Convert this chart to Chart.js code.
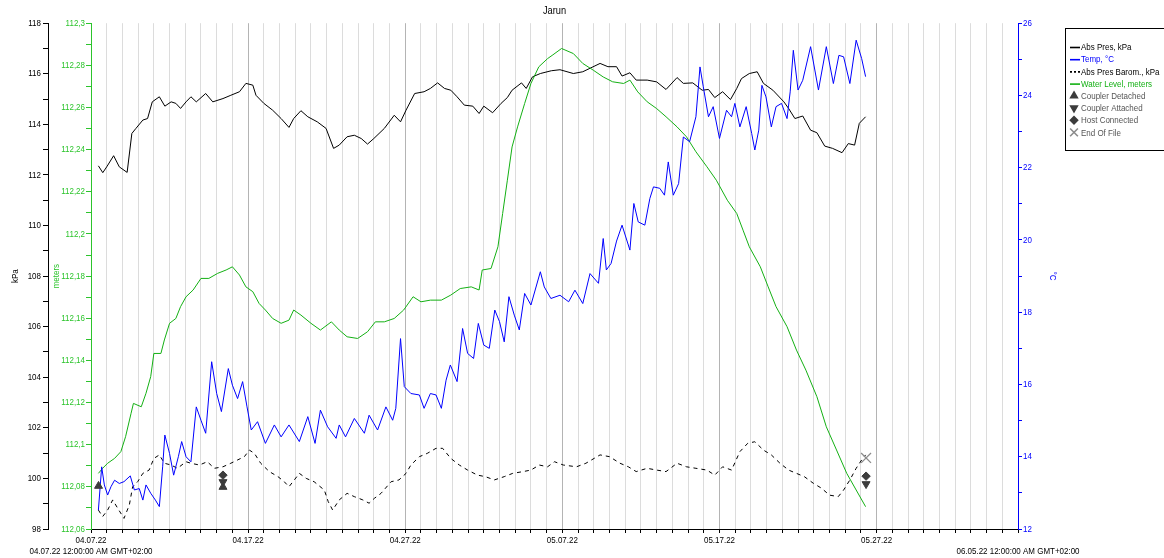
<!DOCTYPE html>
<html><head><meta charset="utf-8">
<script src="https://cdn.jsdelivr.net/npm/chart.js@4.4.1/dist/chart.umd.min.js"></script>
<style>html,body{margin:0;padding:0;background:#fff;overflow:hidden}#wrap{position:relative;width:1164px;height:558px}</style>
</head><body><div id="wrap"><canvas id="c" width="1164" height="558"></canvas></div>
<script>
// x values are days since 04.07.22 00:00
const xTickDays = [0, 10, 20, 30, 40, 50];
const xTickLabels = ['04.07.22', '04.17.22', '04.27.22', '05.07.22', '05.17.22', '05.27.22'];
const xStartLabel = '04.07.22 12:00:00 AM GMT+02:00';
const xEndLabel = '06.05.22 12:00:00 AM GMT+02:00';

const presDay = [0.47,0.75,1.0,1.44,1.8,2.3,2.6,2.86,3.3,3.6,3.9,4.35,4.7,5.1,5.4,5.7,6.05,6.36,6.7,7.3,7.75,8.4,8.9,9.45,9.86,10.3,10.5,11.0,11.56,12.1,12.6,12.9,13.36,13.8,14.4,14.96,15.44,15.8,16.3,16.76,17.2,17.6,18.0,18.67,19.3,19.7,20.05,20.6,21.2,21.6,22.06,22.5,22.9,23.3,23.76,24.3,24.7,25.0,25.56,26.1,26.5,26.8,27.4,27.7,28.1,28.6,29.3,29.85,30.7,31.3,32.4,32.9,33.45,33.8,34.3,34.7,35.4,36.0,36.6,37.3,37.7,38.3,38.9,39.3,39.7,40.2,40.7,41.1,41.4,41.9,42.4,42.8,43.4,44.1,44.4,44.8,45.3,45.8,46.2,46.7,47.2,47.8,48.2,48.6,48.9,49.3];
const presKpa = [112.36,112.09,112.32,112.76,112.32,112.10,113.64,113.84,114.17,114.23,114.89,115.09,114.72,114.89,114.83,114.63,114.89,115.09,114.89,115.22,114.89,115.02,115.15,115.29,115.62,115.55,115.15,114.83,114.56,114.23,113.88,114.23,114.54,114.30,114.10,113.84,113.05,113.18,113.51,113.57,113.44,113.22,113.44,113.84,114.36,114.10,114.56,115.22,115.29,115.42,115.64,115.42,115.35,115.09,114.76,114.72,114.43,114.72,114.46,114.83,115.06,115.35,115.64,115.42,115.88,116.01,116.12,116.16,116.01,116.08,116.41,116.28,116.28,115.91,116.04,115.75,115.75,115.68,115.38,115.85,115.62,115.64,115.35,115.38,115.06,115.29,114.98,115.42,115.81,116.01,116.08,115.62,115.35,114.89,114.63,114.23,114.33,113.77,113.67,113.14,113.05,112.88,113.24,113.18,114.04,114.30];

const tempDay = [0.47,0.68,0.85,1.06,1.27,1.5,1.8,2.1,2.5,2.76,3.07,3.3,3.5,3.8,4.1,4.35,4.56,4.7,5.0,5.26,5.56,5.77,6.05,6.36,6.7,7.0,7.3,7.68,8.0,8.3,8.74,9.0,9.33,9.65,9.93,10.2,10.6,11.1,11.67,12.1,12.6,13.26,13.8,14.26,14.6,15.06,15.6,15.8,16.2,16.76,17.4,17.7,18.24,18.77,19.2,19.4,19.7,19.94,20.36,20.9,21.2,21.6,21.96,22.3,22.6,22.87,23.3,23.65,23.97,24.35,24.65,25.0,25.35,25.7,26.0,26.3,26.6,26.94,27.26,27.6,28.0,28.6,28.85,29.27,29.85,30.4,30.8,31.3,31.76,32.3,32.6,32.8,33.1,33.45,33.8,34.3,34.55,34.83,35.25,35.57,35.8,36.2,36.5,36.74,37.06,37.4,37.7,38.1,38.5,38.76,38.97,39.3,39.6,40.0,40.45,40.77,40.98,41.3,41.7,42.05,42.25,42.5,42.7,42.96,43.3,43.6,43.95,44.3,44.5,44.7,45.0,45.3,45.8,46.3,46.8,47.25,47.6,47.9,48.3,48.7,49.05,49.3];
const tempC = [12.52,13.72,13.22,12.94,13.17,13.35,13.26,13.31,13.47,13.08,13.12,12.80,13.22,12.99,12.80,12.62,13.72,14.60,14.09,13.49,14.00,14.42,14.00,13.86,15.38,15.01,14.65,16.63,15.75,15.25,16.44,15.98,15.61,16.08,15.38,14.74,14.97,14.37,14.88,14.55,14.88,14.42,15.11,14.37,15.29,14.83,14.51,14.88,14.55,15.06,14.65,15.15,14.74,15.38,15.01,15.34,17.27,15.94,15.75,15.71,15.34,15.75,15.71,15.34,16.12,16.54,16.08,17.55,16.86,16.72,17.69,17.09,17.00,18.06,17.74,17.18,18.43,17.92,17.51,18.52,18.20,19.12,18.70,18.38,18.47,18.29,18.61,18.24,19.07,18.80,20.04,19.17,19.35,19.97,20.41,19.72,21.01,20.50,20.41,21.15,21.47,21.43,21.24,22.16,21.24,21.56,22.85,22.72,23.41,24.79,24.24,23.41,23.69,22.81,23.59,23.41,23.78,23.13,23.69,22.95,22.49,23.04,24.28,23.96,23.13,23.69,23.78,23.36,24.10,25.25,24.15,24.42,25.35,24.15,25.35,24.33,25.11,25.07,24.33,25.53,25.02,24.52];

const baroDay = [0.47,0.74,1.06,1.38,1.7,2.1,2.44,2.65,2.97,3.3,3.7,4.0,4.35,4.67,5.1,5.5,6.05,6.36,6.9,7.4,7.85,8.4,8.9,9.33,9.76,10.08,10.4,10.8,11.35,11.9,12.3,12.6,12.94,13.26,13.7,14.2,14.85,15.1,15.38,15.8,16.3,16.76,17.3,17.7,18.03,18.46,19.1,19.6,20.05,20.36,20.9,21.4,21.96,22.38,22.9,23.44,23.97,24.6,25.1,25.67,26.3,26.84,27.5,28.0,28.53,29.06,29.5,30.06,30.9,31.5,32.4,33.0,33.67,34.2,34.7,35.4,36.0,36.6,37.3,37.9,38.5,39.2,39.7,40.2,40.77,41.3,41.8,42.25,42.8,43.3,43.85,44.4,44.9,45.4,45.97,46.5,47.0,47.56,47.9,48.3,48.7,49.05,49.3];
const baroKpa = [98.75,98.49,98.75,99.15,98.82,98.42,98.95,99.67,99.87,100.20,100.33,100.79,100.93,100.60,100.53,100.40,100.66,100.60,100.53,100.66,100.40,100.46,100.60,100.73,100.86,101.12,100.99,100.60,100.27,100.07,99.87,99.67,99.94,100.20,100.00,99.87,99.54,99.08,98.75,99.15,99.41,99.28,99.15,99.02,99.21,99.41,99.87,99.94,100.20,100.53,100.86,100.99,101.19,101.19,100.79,100.53,100.33,100.13,100.07,99.94,100.07,100.20,100.27,100.33,100.53,100.46,100.66,100.53,100.46,100.60,100.93,100.86,100.60,100.46,100.27,100.40,100.33,100.27,100.60,100.46,100.40,100.33,100.13,100.46,100.33,101.06,101.39,101.45,101.12,100.93,100.60,100.33,100.20,100.07,99.81,99.61,99.34,99.28,99.54,99.94,100.40,100.73,100.93];

const levelDay = [0.47,0.74,1.06,1.5,1.9,2.2,2.55,2.7,3.2,3.5,3.8,4.0,4.45,4.67,5.0,5.4,5.7,6.05,6.5,7.0,7.5,8.06,8.6,9.0,9.45,9.86,10.3,10.7,11.1,11.56,12.1,12.6,12.9,13.36,14.0,14.6,15.3,15.8,16.3,16.97,17.6,18.1,18.67,19.3,19.9,20.5,21.0,21.6,22.3,22.9,23.5,24.2,24.7,24.9,25.46,25.9,26.2,26.5,26.8,27.15,27.6,28.0,28.5,29.06,29.4,29.95,30.7,31.3,31.97,32.6,33.2,33.9,34.3,34.8,35.4,36.0,36.6,37.3,37.9,38.5,39.2,39.8,40.5,41.1,41.5,41.9,42.6,43.1,43.6,44.3,44.9,45.5,46.2,46.8,47.45,48.1,48.7,49.3];
const levelM = [112.0864,112.0888,112.0912,112.0935,112.0967,112.1038,112.1149,112.1196,112.1180,112.1244,112.1323,112.1433,112.1433,112.1497,112.1576,112.1599,112.1655,112.1702,112.1734,112.1789,112.1789,112.1813,112.1829,112.1844,112.1805,112.1749,112.1726,112.1670,112.1639,112.1599,112.1576,112.1591,112.1639,112.1615,112.1576,112.1544,112.1583,112.1544,112.1512,112.1504,112.1536,112.1583,112.1583,112.1599,112.1639,112.1702,112.1678,112.1686,112.1686,112.1710,112.1741,112.1749,112.1734,112.1829,112.1836,112.1939,112.2097,112.2255,112.2413,112.2508,112.2619,112.2714,112.2793,112.2832,112.2850,112.2880,112.2856,112.2809,112.2777,112.2745,112.2722,112.2714,112.2730,112.2674,112.2627,112.2595,112.2556,112.2508,112.2461,112.2390,112.2319,112.2255,112.2160,112.2097,112.2018,112.1939,112.1844,112.1749,112.1655,112.1560,112.1449,112.1354,112.1228,112.1085,112.0975,112.0864,112.0785,112.0706];

const detachedDay = [0.48, 8.40], detachedKpa = [99.70, 99.66];
const attachedDay = [8.40, 49.33], attachedKpa = [99.86, 99.78];
const hostDay = [8.40, 49.33], hostKpa = [100.13, 100.09];
const eofDay = [49.33], eofKpa = [100.81];

const seriesNames = ['Abs Pres, kPa', 'Temp, °C', 'Abs Pres Barom., kPa', 'Water Level, meters', 'Coupler Detached', 'Coupler Attached', 'Host Connected', 'End Of File'];

const FONT = "'Liberation Sans',Arial,sans-serif";
const GREEN_LINE = '#14b014', GREEN_AX = '#2cc42c', BLUE = '#0000ff', MARK = '#3c3c3c', EOF_C = '#8c8c8c';

// the reference uses a condensed face: draw all canvas text horizontally condensed
const SX = 0.84;
const origFill = CanvasRenderingContext2D.prototype.fillText;
CanvasRenderingContext2D.prototype.fillText = function (t, x, y, mw) {
  this.save(); this.translate(x, y); this.scale(SX, 1);
  if (mw !== undefined) origFill.call(this, t, 0, 0, mw / SX); else origFill.call(this, t, 0, 0);
  this.restore();
};

const pts = (xs, ys) => xs.map((x, i) => ({x, y: ys[i]}));

const legendPlugin = {
  id: 'boxLegend',
  afterDraw(chart) {
    const ctx = chart.ctx;
    ctx.save();
    ctx.strokeStyle = '#000'; ctx.lineWidth = 1;
    ctx.strokeRect(1065.5, 28.5, 120, 122);
    const items = [
      {t: 'line', c: '#000', tc: '#000'},
      {t: 'line', c: BLUE, tc: BLUE},
      {t: 'dot', c: '#000', tc: '#000'},
      {t: 'line', c: GREEN_LINE, tc: GREEN_LINE},
      {t: 'pt', ps: 'triangle', rot: 0, r: 3.8, c: MARK, tc: '#555'},
      {t: 'pt', ps: 'triangle', rot: 180, r: 3.8, c: MARK, tc: '#555'},
      {t: 'pt', ps: 'rectRot', rot: 0, r: 3.6, c: MARK, tc: '#555'},
      {t: 'pt', ps: 'crossRot', rot: 0, r: 5.5, c: EOF_C, tc: '#555'}
    ];
    ctx.font = '9.5px ' + FONT;
    ctx.textBaseline = 'middle';
    items.forEach((it, i) => {
      const y = 47 + i * 12.2;
      if (it.t === 'line' || it.t === 'dot') {
        ctx.beginPath();
        ctx.strokeStyle = it.c; ctx.lineWidth = 1.6;
        ctx.setLineDash(it.t === 'dot' ? [2, 2] : []);
        ctx.moveTo(1070, y + 0.5); ctx.lineTo(1080, y + 0.5); ctx.stroke();
        ctx.setLineDash([]);
      } else {
        ctx.fillStyle = it.c; ctx.strokeStyle = it.c;
        Chart.helpers.drawPoint(ctx, {pointStyle: it.ps, radius: it.r, rotation: it.rot, borderWidth: 1}, 1074, y);
      }
      ctx.fillStyle = it.tc;
      ctx.fillText(seriesNames[i], 1081, y + 0.5);
    });
    // start / end date labels under x axis
    const xs = chart.scales.x;
    ctx.fillStyle = '#000';
    ctx.font = '9.5px ' + FONT;
    ctx.textAlign = 'center';
    ctx.fillText(xStartLabel, xs.getPixelForValue(0), 551);
    ctx.fillText(xEndLabel, xs.getPixelForValue(59), 551);
    ctx.restore();
  }
};

new Chart(document.getElementById('c'), {
  type: 'line',
  data: {
    datasets: [
      {label: seriesNames[4], type: 'scatter', data: pts(detachedDay, detachedKpa), yAxisID: 'yK', pointStyle: 'triangle', pointRadius: 4.6, backgroundColor: MARK, borderColor: MARK, borderWidth: 1, showLine: false},
      {label: seriesNames[5], type: 'scatter', data: pts(attachedDay, attachedKpa), yAxisID: 'yK', pointStyle: 'triangle', rotation: 180, pointRadius: 4.6, backgroundColor: MARK, borderColor: MARK, borderWidth: 1, showLine: false},
      {label: seriesNames[6], type: 'scatter', data: pts(hostDay, hostKpa), yAxisID: 'yK', pointStyle: 'rectRot', pointRadius: 4.2, backgroundColor: MARK, borderColor: MARK, borderWidth: 1, showLine: false},
      {label: seriesNames[7], type: 'scatter', data: pts(eofDay, eofKpa), yAxisID: 'yK', pointStyle: 'crossRot', pointRadius: 7, backgroundColor: EOF_C, borderColor: EOF_C, borderWidth: 1.3, showLine: false},
      {label: seriesNames[1], data: pts(tempDay, tempC), yAxisID: 'yT', borderColor: BLUE, borderWidth: 1, pointRadius: 0, tension: 0, fill: false},
      {label: seriesNames[3], data: pts(levelDay, levelM), yAxisID: 'yM', borderColor: GREEN_LINE, borderWidth: 1, pointRadius: 0, tension: 0, fill: false},
      {label: seriesNames[0], data: pts(presDay, presKpa), yAxisID: 'yK', borderColor: '#000', borderWidth: 1, pointRadius: 0, tension: 0, fill: false},
      {label: seriesNames[2], data: pts(baroDay, baroKpa), yAxisID: 'yK', borderColor: '#000', borderWidth: 1, borderDash: [4, 4], pointRadius: 0, tension: 0, fill: false}
    ]
  },
  options: {
    responsive: false, animation: false, devicePixelRatio: 1,
    layout: {padding: {left: 0, right: 99, top: 0, bottom: 0}},
    plugins: {
      legend: {display: false}, tooltip: {enabled: false},
      title: {display: true, text: 'Jarun', fullSize: false, color: '#000', font: {family: FONT, size: 11, weight: 'normal'}, padding: {top: 4, bottom: 6}}
    },
    scales: {
      x: {
        type: 'linear', position: 'bottom', min: 0, max: 59,
        ticks: {stepSize: 1, autoSkip: false, maxRotation: 0, color: '#000', font: {family: FONT, size: 9.5}, padding: 2,
          callback: v => { const k = xTickDays.indexOf(v); return k >= 0 ? xTickLabels[k] : ''; }},
        grid: {drawOnChartArea: true, color: c => (c.tick && c.tick.value % 10 === 0) ? '#b4b4b4' : '#dcdcdc', lineWidth: 1, tickColor: '#000', tickLength: 4},
        border: {color: '#000', width: 1},
        afterFit: s => { s.height = 29; }
      },
      yK: {
        type: 'linear', position: 'left', weight: 2, min: 98, max: 118,
        ticks: {stepSize: 1, color: '#000', font: {family: FONT, size: 9.5}, padding: 2, callback: v => (v % 2 === 0 ? String(v) : '')},
        grid: {drawOnChartArea: false, color: '#000', tickColor: '#000', tickLength: 5},
        border: {color: '#000', width: 1},
        title: {display: true, text: 'kPa', color: '#000', font: {family: FONT, size: 9.5}, padding: {top: 10, bottom: 0}},
        afterFit: s => { s.width = 48; }
      },
      yM: {
        type: 'linear', position: 'left', weight: 1, min: 112.06, max: 112.30,
        ticks: {stepSize: 0.01, color: GREEN_AX, font: {family: FONT, size: 9.5}, padding: 1,
          callback: v => { const n = Math.round(v * 100); return n % 2 === 0 ? String(n / 100).replace('.', ',') : ''; }},
        grid: {drawOnChartArea: false, color: GREEN_AX, tickColor: GREEN_AX, tickLength: 5},
        border: {color: GREEN_AX, width: 1},
        title: {display: true, text: 'meters', color: GREEN_AX, font: {family: FONT, size: 9.5}, padding: {top: 3, bottom: 0}},
        afterFit: s => { s.width = 43; }
      },
      yT: {
        type: 'linear', position: 'right', min: 12, max: 26,
        ticks: {stepSize: 1, color: BLUE, font: {family: FONT, size: 9.5}, padding: 1, callback: v => (v % 2 === 0 ? String(v) : '')},
        grid: {drawOnChartArea: false, color: BLUE, tickColor: BLUE, tickLength: 4},
        border: {color: BLUE, width: 1},
        title: {display: true, text: '°C', color: BLUE, font: {family: FONT, size: 9.5}, padding: {top: 7, bottom: 0}},
        afterFit: s => { s.width = 47; }
      }
    }
  },
  plugins: [legendPlugin]
});
</script>
</body></html>
